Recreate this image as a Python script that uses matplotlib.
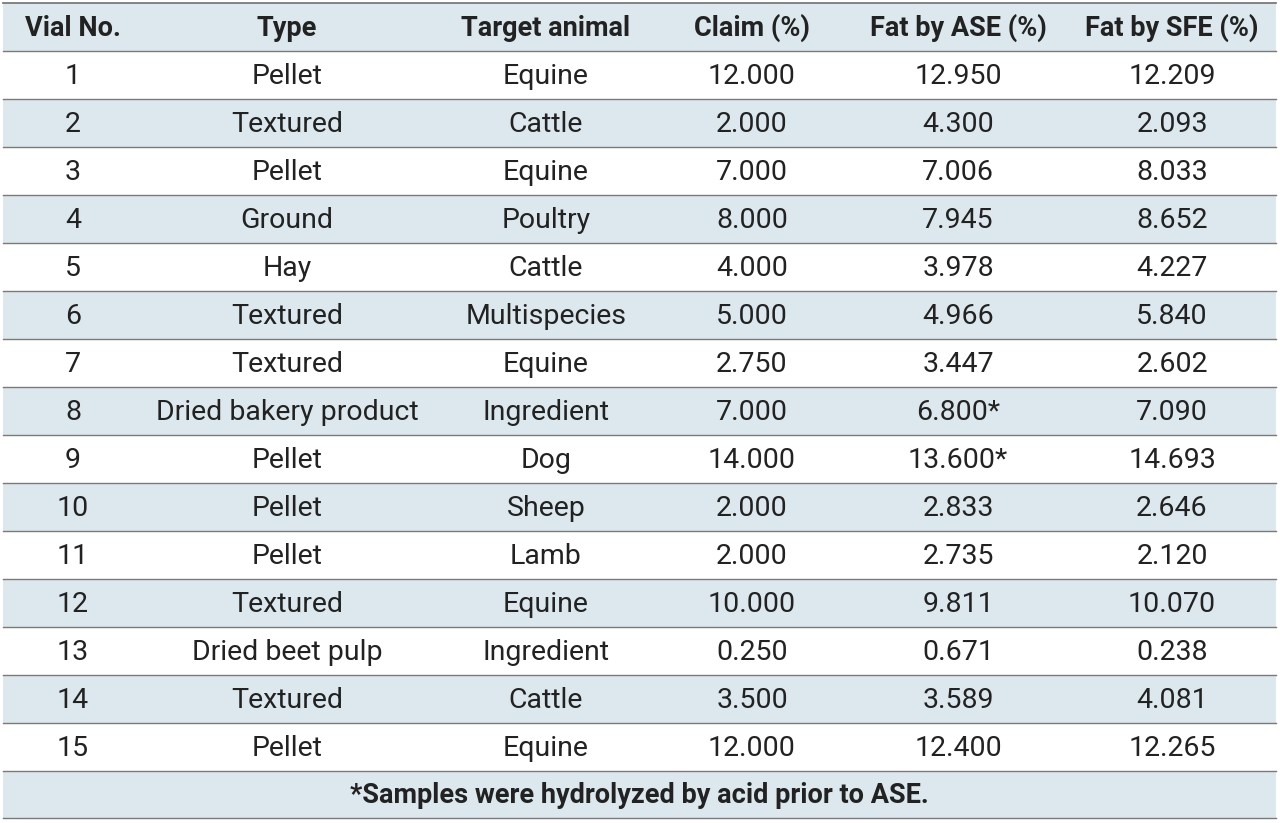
import matplotlib
matplotlib.use("Agg")
import matplotlib.pyplot as plt
from matplotlib import font_manager

headers = ["Vial No.", "Type", "Target animal", "Claim (%)", "Fat by ASE (%)", "Fat by SFE (%)"]
vial = [str(i) for i in range(1, 16)]
types = ["Pellet", "Textured", "Pellet", "Ground", "Hay", "Textured", "Textured",
         "Dried bakery product", "Pellet", "Pellet", "Pellet", "Textured",
         "Dried beet pulp", "Textured", "Pellet"]
animals = ["Equine", "Cattle", "Equine", "Poultry", "Cattle", "Multispecies", "Equine",
           "Ingredient", "Dog", "Sheep", "Lamb", "Equine", "Ingredient", "Cattle", "Equine"]
claim = ["12.000", "2.000", "7.000", "8.000", "4.000", "5.000", "2.750", "7.000",
         "14.000", "2.000", "2.000", "10.000", "0.250", "3.500", "12.000"]
ase = ["12.950", "4.300", "7.006", "7.945", "3.978", "4.966", "3.447", "6.800*",
       "13.600*", "2.833", "2.735", "9.811", "0.671", "3.589", "12.400"]
sfe = ["12.209", "2.093", "8.033", "8.652", "4.227", "5.840", "2.602", "7.090",
       "14.693", "2.646", "2.120", "10.070", "0.238", "4.081", "12.265"]
footnote = "*Samples were hydrolyzed by acid prior to ASE."

names = {f.name for f in font_manager.fontManager.ttflist}
fam = "Liberation Sans Narrow" if "Liberation Sans Narrow" in names else "Roboto"

W, H = 1280, 823
fig = plt.figure(figsize=(W / 100, H / 100), dpi=100)
ax = fig.add_axes([0, 0, 1, 1])
ax.set_xlim(0, W); ax.set_ylim(H, 0); ax.axis("off")

bg = "#dce8ee"; lc = "#7a7a7a"
x0, x1 = 3, 1276
top, hdr_bot, rh = 3, 51, 48
colx = [73, 287, 546, 752, 958, 1172]
fs = 20.5
hfs = 19.5

ax.add_patch(plt.Rectangle((x0, top), x1 - x0, hdr_bot - top, color=bg, lw=0))
for x, h in zip(colx, headers):
    ax.text(x, (top + hdr_bot) / 2 + 1, h, ha="center", va="center", fontsize=hfs,
            fontweight="bold", family=fam, color="#222")
cols = [vial, types, animals, claim, ase, sfe]
for i in range(15):
    y = hdr_bot + i * rh
    if i % 2 == 1:
        ax.add_patch(plt.Rectangle((x0, y), x1 - x0, rh, color=bg, lw=0))
    for x, c in zip(colx, cols):
        ax.text(x, y + rh / 2 + 1, c[i], ha="center", va="center", fontsize=fs,
                family=fam, color="#222")
fy = hdr_bot + 15 * rh
fb = fy + 47
ax.add_patch(plt.Rectangle((x0, fy), x1 - x0, fb - fy, color=bg, lw=0))
ax.text((x0 + x1) / 2, (fy + fb) / 2 + 1, footnote, ha="center", va="center",
        fontsize=hfs, fontweight="bold", family=fam, color="#222")
for y in [top] + [hdr_bot + i * rh for i in range(16)] + [fb]:
    ax.plot([x0, x1], [y, y], color=lc, lw=1.3 if y == top else 1.0)
fig.savefig("out.png", dpi=100)
